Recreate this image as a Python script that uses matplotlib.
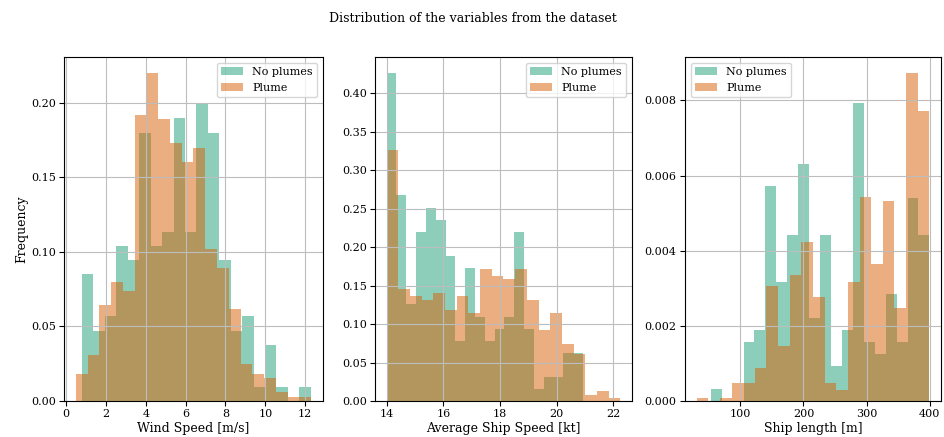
import numpy as np
import matplotlib
matplotlib.use("Agg")
import matplotlib.pyplot as plt

plt.rcParams['font.family'] = ['DejaVu Serif']

# ---- Data (density histograms, 20 bins each) ----
wind_range_noplume = (0.80, 12.28)
wind_range_plume = (0.49, 12.30)
wind_noplume = [0.0853, 0.0471, 0.0570, 0.1041, 0.0947, 0.1800, 0.1041, 0.1135, 0.1900, 0.1135,
                0.1999, 0.1800, 0.0947, 0.0471, 0.0570, 0.0092, 0.0375, 0.0092, 0.0, 0.0092]
wind_plume = [0.0180, 0.0307, 0.0644, 0.0799, 0.0738, 0.1916, 0.2198, 0.1889, 0.1734, 0.1606,
              0.1700, 0.1020, 0.0895, 0.0617, 0.0247, 0.0180, 0.0155, 0.0058, 0.0025, 0.0025]

speed_range_noplume = (14.0, 20.93)
speed_range_plume = (14.0, 22.25)
speed_noplume = [0.4261, 0.2683, 0.1260, 0.2200, 0.2513, 0.2357, 0.1887, 0.0783, 0.1730, 0.1096,
                 0.0783, 0.0939, 0.1096, 0.2204, 0.0939, 0.0157, 0.0313, 0.0313, 0.0626, 0.0626]
speed_plume = [0.3260, 0.1452, 0.1365, 0.1313, 0.1409, 0.1187, 0.1365, 0.1148, 0.1722, 0.1630,
               0.1590, 0.1722, 0.1317, 0.0926, 0.1148, 0.0743, 0.0613, 0.0078, 0.0130, 0.0039]

length_range_noplume = (53.1, 399.5)
length_range_plume = (30.7, 399.5)
length_noplume = [0.00032, 0.0, 0.0, 0.00157, 0.00189, 0.00571, 0.00317, 0.00443, 0.00632, 0.00221,
                  0.00443, 0.00093, 0.00189, 0.00792, 0.00158, 0.00126, 0.00286, 0.00158, 0.00539, 0.00443]
length_plume = [0.00008, 0.0, 0.00008, 0.00048, 0.00048, 0.00088, 0.00307, 0.00147, 0.00336, 0.00424,
                0.00277, 0.00048, 0.00029, 0.00317, 0.00544, 0.00365, 0.00533, 0.00248, 0.00872, 0.00773]

xlabels = ["Wind Speed [m/s]", "Average Ship Speed [kt]", "Ship length [m]"]
series_labels = ["No plumes", "Plume"]
title = "Distribution of the variables from the dataset"

GREEN = "#1b9e77"
ORANGE = "#d95f02"

fig = plt.figure(figsize=(9.45, 4.37), dpi=100)
W, H = 945, 437
positions = [(64, 323), (375, 632), (685, 941)]
top_px, bottom_px = 57, 401
axes = []
for (l, r) in positions:
    ax = fig.add_axes([l / W, (H - bottom_px) / H, (r - l) / W, (bottom_px - top_px) / H])
    axes.append(ax)

panels = [
    (wind_range_noplume, wind_noplume, wind_range_plume, wind_plume, "upper right", "%.2f"),
    (speed_range_noplume, speed_noplume, speed_range_plume, speed_plume, "upper right", "%.2f"),
    (length_range_noplume, length_noplume, length_range_plume, length_plume, "upper left", "%.3f"),
]

for ax, (rg, hg, ro, ho, loc, fmt), xl in zip(axes, panels, xlabels):
    eg = np.linspace(rg[0], rg[1], len(hg) + 1)
    eo = np.linspace(ro[0], ro[1], len(ho) + 1)
    ax.hist(eg[:-1], bins=eg, weights=hg, color=GREEN, alpha=0.5, label=series_labels[0])
    ax.hist(eo[:-1], bins=eo, weights=ho, color=ORANGE, alpha=0.5, label=series_labels[1])
    ax.grid(True, color="#bdbdbd", linewidth=0.8)
    ax.set_xlabel(xl, fontsize=9, labelpad=2)
    ax.tick_params(labelsize=8, pad=2.5)
    ax.yaxis.set_major_formatter(matplotlib.ticker.FormatStrFormatter(fmt))
    ax.legend(loc=loc, fontsize=8)

axes[0].set_ylabel("Frequency", fontsize=9, labelpad=2)
axes[0].set_xticks([0, 2, 4, 6, 8, 10, 12])
axes[0].set_yticks([0.0, 0.05, 0.10, 0.15, 0.20])
axes[1].set_xticks([14, 16, 18, 20, 22])
axes[1].set_yticks(np.arange(0, 0.41, 0.05))
axes[2].set_xticks([100, 200, 300, 400])
axes[2].set_yticks([0, 0.002, 0.004, 0.006, 0.008])

fig.suptitle(title, fontsize=9, y=0.973)

fig.savefig("out.png", dpi=100)
